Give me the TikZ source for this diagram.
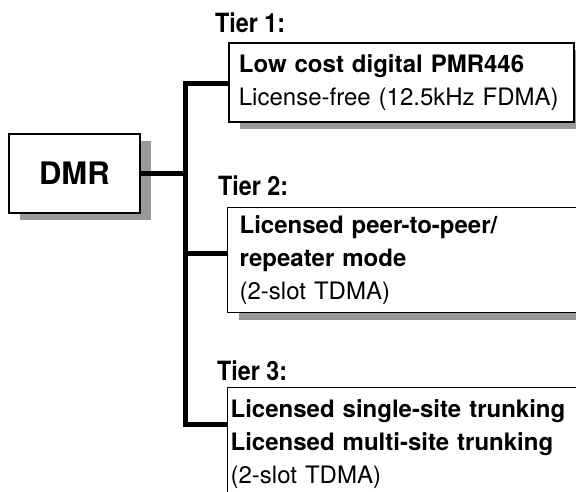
\documentclass[tikz,border=0pt]{standalone}
\usepackage{fontspec}
\setmainfont{TeX Gyre Heros}
\newfontfamily\tierfont{TeX Gyre Heros}[FakeStretch=0.88]
\usetikzlibrary{shadows}
\begin{document}
\begin{tikzpicture}[x=1pt,y=-1pt,line join=miter,
	font=\fontsize{24}{33}\selectfont,
	box/.style={draw,line width=1.8pt,fill=white,anchor=north west,align=left,
		general shadow={fill=black!40,shadow xshift=11pt,shadow yshift=-7.5pt}},
	thinbox/.style={box,line width=1.3pt},
	link/.style={line width=5pt},
	tier/.style={anchor=base west,inner sep=0pt,font=\tierfont\fontsize{26.5}{33}\selectfont\bfseries}]
	\useasboundingbox (0,0) rectangle (576,491);
	\clip (0,0) rectangle (576,491);
	% root
	\node[box,align=center,minimum width=131pt,minimum height=79pt,
		font=\fontsize{31}{36}\selectfont\bfseries] (dmr) at (8,133) {DMR};
	% tiers
	\node[tier] (lab1) at (215,32) {Tier 1:};
	\node[box,inner xsep=10pt,text width=325pt,minimum height=79pt] (t1) at (228,42)
		{\textbf{Low cost digital PMR446}\\License-free (12.5kHz FDMA)};
	\node[tier] (lab2) at (218,195) {Tier 2:};
	\node[thinbox,inner xsep=12pt,text width=400pt,minimum height=105pt] (t2) at (227,207)
		{\textbf{Licensed peer-to-peer/}\\\textbf{repeater mode}\\(2-slot TDMA)};
	\node[tier] (lab3) at (217,380) {Tier 3:};
	\node[thinbox,inner xsep=3pt,text width=420pt,minimum height=112pt] (t3) at (227,387)
		{\textbf{Licensed single-site trunking}\\\textbf{Licensed multi-site trunking}\\(2-slot TDMA)};
	\path (185.5,0) coordinate (bus)
		([yshift=-41pt]t1.north west) coordinate (t1in)
		([yshift=-46pt]t2.north west) coordinate (t2in)
		([yshift=-37pt]t3.north west) coordinate (t3in);
	% connectors
	\draw[link] (dmr.east)--(dmr.east -| bus);
	\draw[link] (t1in)--(t1in -| bus)--(bus |- t3in)--(t3in);
	\draw[link] (bus |- t2in)--(t2in);
\end{tikzpicture}
\end{document}
